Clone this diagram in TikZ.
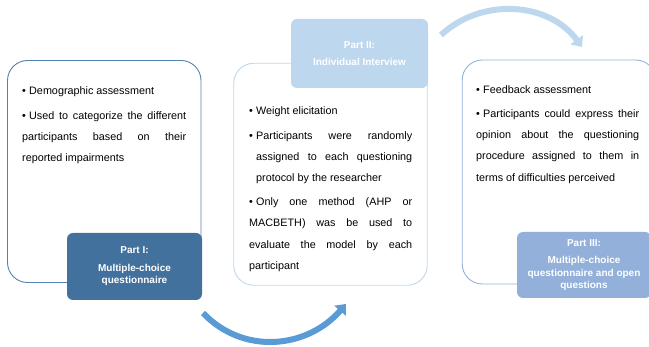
\documentclass[tikz,border=0pt]{standalone}
\usepackage{fontspec}
\setmainfont{Liberation Sans}
\usepackage{xcolor}
\usetikzlibrary{arrows.meta}
\definecolor{myblue}{RGB}{65,113,156}
\definecolor{mybluedraw}{RGB}{84,130,178}
\definecolor{mypaleblue}{RGB}{189,215,238}
\definecolor{mymidblue}{RGB}{146,176,218}
\definecolor{myarrowblue}{RGB}{91,155,213}

\newcommand{\bul}[1]{\par\hangindent=7pt\hangafter=1\noindent\makebox[7pt][l]{\textbullet}#1}

\begin{document}
\begin{tikzpicture}[x=1pt,y=-1pt,
  stagebox/.style={draw,line width=0.9pt,rounded corners=20pt,minimum width=193.5pt,minimum height=222pt,inner sep=0pt},
  partbox/.style={rounded corners=6pt,minimum width=135pt,minimum height=67pt,inner sep=0pt,
    text=white,align=center,font=\fontsize{10}{12.5}\selectfont\bfseries},
  notes/.style={anchor=north west,inner sep=0pt,text width=164pt,align=justify,
    font=\fontsize{10.8}{21.2}\selectfont,
    execute at begin node={\setlength{\parskip}{3pt}\hyphenpenalty=10000\exhyphenpenalty=10000}},
  flow/.style={line width=6pt,-{Triangle[length=9pt,width=15pt]}}]
\useasboundingbox (0,0) rectangle (649,347);

% outlines of the three stages
\node[stagebox,draw=mybluedraw] (stage1) at (104.25,171.5) {};
\node[stagebox,draw=mypaleblue] (stage2) at (330.5,174.25) {};
\node[stagebox,draw=mymidblue,minimum height=224pt] (stage3) at (559,172) {};

% part labels
\node[partbox,fill=myblue] (part1) at (134.5,266.5) {Part I:\\[5pt]Multiple-choice\\questionnaire};
\node[partbox,fill=mypaleblue,minimum width=137pt,minimum height=69pt] (part2) at (359.5,53.5) {Part II:\\[5pt]Individual Interview};
\node[partbox,fill=mymidblue,minimum width=134pt,minimum height=66pt] (part3) at (584,265) {Part III:\\[5pt]Multiple-choice\\questionnaire and open\\questions};

% bullet texts
\node[notes] (notes1) at (22,70.5) {\bul{Demographic assessment}
\bul{Used to categorize the different participants based on their reported impairments}};
\node[notes,text width=163pt] (notes2) at (249,90.5) {\bul{Weight elicitation}
\bul{Participants were randomly assigned to each questioning protocol by the researcher}
\bul{Only one method (AHP or MACBETH) was be used to evaluate the model by each participant}};
\node[notes,text width=163pt] (notes3) at (476,69) {\bul{Feedback assessment}
\bul{Participants could express their opinion about the questioning procedure assigned to them in terms of difficulties perceived}};

% arrows between the stages
\coordinate (flow1a) at (203,313);
\coordinate (flow1b) at (346,304);
\coordinate (flow2a) at (441,35);
\coordinate (flow2b) at (582,47);
\draw[flow,myarrowblue] (flow1a) .. controls (243,355) and (307,349) .. (flow1b);
\draw[flow,mypaleblue] (flow2a) .. controls (482,-3) and (549,2) .. (flow2b);
\end{tikzpicture}
\end{document}
